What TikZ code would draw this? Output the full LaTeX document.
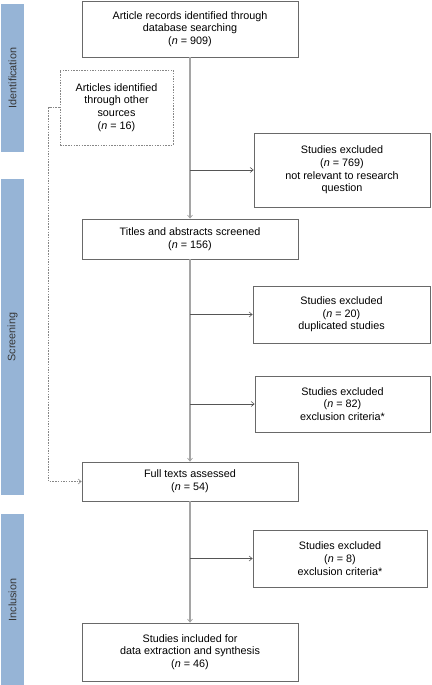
\documentclass[tikz,border=0pt]{standalone}
\usepackage{fontspec}
\setmainfont{Liberation Sans}
\usetikzlibrary{arrows.meta}
\definecolor{barblue}{RGB}{150,180,214}
\definecolor{bartext}{RGB}{55,55,55}
\definecolor{boxline}{RGB}{105,105,105}
\definecolor{vline}{RGB}{165,165,165}
\definecolor{hline}{RGB}{85,85,85}
\tikzset{
  box/.style={draw=boxline, line width=0.8pt, align=center, inner sep=2pt,
    font=\fontsize{10.8}{12.7}\selectfont, text=black},
  dbox/.style={box, dashed, dash pattern=on 1.5pt off 1.2pt, draw=boxline!80},
  bar/.style={fill=barblue, draw=none},
  barlabel/.style={rotate=90, text=bartext, font=\fontsize{10.8}{12.7}\selectfont},
  mainline/.style={draw=vline, line width=1.3pt, -{Straight Barb[length=3pt,width=5pt,line width=0.7pt]}},
  branch/.style={draw=hline, line width=0.6pt, -{Straight Barb[length=3pt,width=5pt,line width=0.6pt]}},
  dline/.style={draw=boxline!80, line width=0.7pt, dash pattern=on 1.5pt off 1.2pt, -{Straight Barb[length=3pt,width=5pt,line width=0.6pt]}}
}
\begin{document}
\begin{tikzpicture}[x=1pt,y=-1pt]
\useasboundingbox (0,0) rectangle (431,685);
% side bars
\fill[bar] (1,4) rectangle (24,152);
\fill[bar] (1,179) rectangle (24,495);
\fill[bar] (1,514) rectangle (24,685);
\node[barlabel] (lid) at (12.5,78) {Identification};
\node[barlabel] (lsc) at (12.5,337) {Screening};
\node[barlabel] (lin) at (12.5,600) {Inclusion};
% boxes
\node[box, minimum width=216pt, minimum height=56pt] (rec) at (190,29)
  {Article records identified through\\database searching\\(\textit{n} = 909)};
\node[dbox, minimum width=113pt, minimum height=75pt] (oth) at (116.5,107.5)
  {Articles identified\\through other\\sources\\(\textit{n} = 16)};
\node[box, minimum width=176pt, minimum height=74pt] (ex1) at (342,170)
  {Studies excluded\\(\textit{n} = 769)\\not relevant to research\\question};
\node[box, minimum width=216pt, minimum height=40pt] (tit) at (190,239)
  {Titles and abstracts screened\\(\textit{n} = 156)};
\node[box, minimum width=177pt, minimum height=57pt] (ex2) at (341.5,314.5)
  {Studies excluded\\(\textit{n} = 20)\\duplicated studies};
\node[box, minimum width=175pt, minimum height=56pt] (ex3) at (342.5,404)
  {Studies excluded\\(\textit{n} = 82)\\exclusion criteria*};
\node[box, minimum width=216pt, minimum height=39pt] (ful) at (190,481.5)
  {Full texts assessed\\(\textit{n} = 54)};
\node[box, minimum width=174pt, minimum height=57pt] (ex4) at (340,558.5)
  {Studies excluded\\(\textit{n} = 8)\\exclusion criteria*};
\node[box, minimum width=216pt, minimum height=58pt] (inc) at (190,652)
  {Studies included for\\data extraction and synthesis\\(\textit{n} = 46)};
% branch points
\coordinate (b1) at (190,170);
\coordinate (b2) at (190,314.5);
\coordinate (b3) at (190,404);
\coordinate (b4) at (190,558.5);
% connectors
\draw[mainline] (rec.south) -- (tit.north);
\draw[mainline] (tit.south) -- (ful.north);
\draw[mainline] (ful.south) -- (inc.north);
\draw[branch] (b1) -- (ex1.west);
\draw[branch] (b2) -- (ex2.west);
\draw[branch] (b3) -- (ex3.west);
\draw[branch] (b4) -- (ex4.west);
\draw[dline] (oth.west) -- ++(-11,0) |- (ful.west);
\end{tikzpicture}
\end{document}
